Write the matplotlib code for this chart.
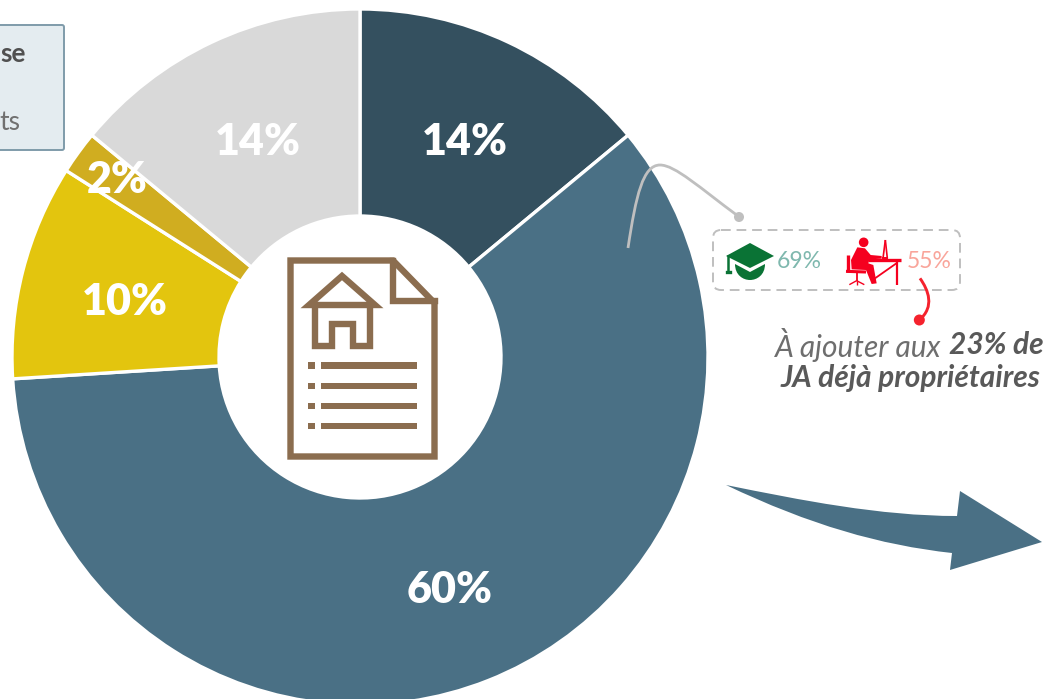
import matplotlib
matplotlib.use('Agg')
import matplotlib.pyplot as plt
from matplotlib.path import Path
from matplotlib.patches import PathPatch, Polygon, Circle, Rectangle, FancyBboxPatch

# donut data, clockwise from the top
shares = [14, 60, 10, 2, 14]
colors = ['#34505F', '#4A7085', '#E3C50E', '#D0AD20', '#D9D9D9']
label_pos = [(465, 142), (450, 590), (125, 302), (117, 180), (258, 142)]

grad_share = '69%'
work_share = '55%'

plt.rcParams['font.family'] = ['Lato', 'DejaVu Sans']

fig = plt.figure(figsize=(10.48, 6.99), dpi=100)

# donut axes: y goes up, so the pie keeps its clockwise order
ax_pie = fig.add_axes([0, 0, 1, 1])
ax_pie.pie(shares, colors=colors, startangle=90, counterclock=False,
           center=(360, 699 - 357), radius=348,
           wedgeprops=dict(width=207, edgecolor='white', linewidth=2.4))
ax_pie.set_xlim(0, 1048)
ax_pie.set_ylim(0, 699)
ax_pie.set_aspect('auto')

# overlay in image pixels for everything else
ax = fig.add_axes([0, 0, 1, 1])
ax.set_xlim(0, 1048)
ax.set_ylim(699, 0)
ax.axis('off')
ax.patch.set_alpha(0)

for v, (x, y) in zip(shares, label_pos):
    ax.text(x, y, f'{v}%', color='white', fontsize=31, fontweight='heavy',
            ha='center', va='center')


def curve(verts, codes, **kw):
    ax.add_patch(PathPatch(Path(verts, codes), **kw))


M, L, C4, Z = Path.MOVETO, Path.LINETO, Path.CURVE4, Path.CLOSEPOLY

# box cut by the left edge
ax.add_patch(FancyBboxPatch((-20, 25), 84, 125, boxstyle='round,pad=0,rounding_size=2',
                            fc='#E4ECF0', ec='#7F9BAA', lw=1.4))
ax.text(26, 54, 'se', color='#505050', fontsize=19, fontweight='bold', ha='right', va='center')
ax.text(20, 122, 'ts', color='#707070', fontsize=19, fontweight='normal', ha='right', va='center')

# document icon
brown = '#8B6D4F'
lw_doc = 4.6
ax.add_patch(Polygon([(290.5, 260.5), (393, 260.5), (434.5, 303), (434.5, 456.5), (290.5, 456.5)],
                     closed=True, fc='none', ec=brown, lw=lw_doc, joinstyle='miter'))
ax.plot([393, 393, 434.5], [260.5, 301, 301], color=brown, lw=lw_doc, solid_joinstyle='miter')
ax.add_patch(Polygon([(342, 276), (309, 305), (375, 305)], closed=True, fc='none', ec=brown,
                     lw=lw_doc, joinstyle='miter'))
ax.plot([315, 315, 332, 332, 353, 353, 370, 370], [305, 346, 346, 324, 324, 346, 346, 305],
        color=brown, lw=lw_doc, solid_joinstyle='miter')
for y in [365.5, 386, 406, 426]:
    ax.add_patch(Rectangle((308, y - 3.3), 7, 6.6, fc=brown, ec='none'))
    ax.add_patch(Rectangle((321, y - 3.3), 96, 6.6, fc=brown, ec='none'))

# grey connector
grey = '#BFBFBF'
curve([(628, 248), (636, 195), (643, 165), (660, 165), (675, 165), (700, 188), (738, 216)],
      [M, C4, C4, C4, C4, C4, C4], fc='none', ec=grey, lw=2)
ax.add_patch(Circle((739, 217), 5, fc=grey, ec='none'))

# dashed box
ax.add_patch(FancyBboxPatch((713, 230), 247, 60, boxstyle='round,pad=0,rounding_size=8',
                            fc='none', ec=grey, lw=1.4, ls=(0, (5, 3))))

# graduation cap
green = '#0A7335'
ax.add_patch(Polygon([(726, 256), (750, 243), (774, 256), (750, 268)], closed=True, fc=green, ec='none'))
curve([(735, 264), (750, 272), (765, 264), (765, 275), (757, 280), (750, 280), (743, 280),
       (735, 275), (735, 264), (735, 264)],
      [M, L, L, C4, C4, C4, C4, C4, C4, Z], fc=green, ec='none')
ax.plot([728, 728], [256, 272], color=green, lw=1.8)
ax.plot([726.5, 730], [272, 272], color=green, lw=2.4)
ax.text(777, 261, grad_share, color='#7FB8AE', fontsize=16.5, fontweight='normal', ha='left', va='center')


# person at a desk, traced on the zoomed crop (3x from 620,150)
def z(x, y):
    return 620 + x / 3, 150 + y / 3


red = '#F5001F'
ax.add_patch(Circle(z(731, 277), 4.8, fc=red, ec='none'))
ax.add_patch(Polygon([z(*p) for p in [(712, 292), (735, 295), (752, 315), (785, 318), (785, 326),
                                      (748, 328), (745, 340), (760, 345), (770, 400), (755, 402),
                                      (738, 360), (695, 358), (693, 330)]],
                     closed=True, fc=red, ec='none'))
for a, b, w in [((745, 330), (843, 330), 2.4), ((832, 330), (832, 404), 1.6), ((832, 338), (765, 385), 1.3),
                ((685, 315), (685, 365), 2.4), ((678, 364), (738, 366), 2.2), ((710, 366), (710, 392), 1.3),
                ((710, 392), (688, 404), 1), ((710, 392), (733, 404), 1), ((710, 392), (710, 405), 1),
                ((796, 270), (789, 325), 1.2), ((796, 270), (802, 325), 1.2), ((786, 325), (805, 325), 1.4)]:
    xa, ya = z(*a)
    xb, yb = z(*b)
    ax.plot([xa, xb], [ya, yb], color=red, lw=w, solid_capstyle='butt')
ax.text(907, 261, work_share, color='#F9A59B', fontsize=16.5, fontweight='normal', ha='left', va='center')

# red connector
curve([z(900, 385), z(925, 420), z(945, 470), z(898, 510)], [M, C4, C4, C4], fc='none', ec='#F5222D', lw=2.1)
ax.add_patch(Circle(z(898, 510), 5.5, fc='#F5222D', ec='none'))

# note
note = '#595959'
ax.text(941, 345, 'À ajouter aux', color='#6E6E6E', fontsize=21.5, fontstyle='italic', fontweight='normal',
        ha='right', va='center')
ax.text(1044, 345, '23% de', color=note, fontsize=21.5, fontstyle='italic', fontweight='bold',
        ha='right', va='center')
ax.text(1040, 378, 'JA déjà propriétaires', color=note, fontsize=21.5, fontstyle='italic', fontweight='bold',
        ha='right', va='center')

# big arrow
curve([(726, 485), (800, 500), (880, 516), (957, 516), (960, 491), (1042, 542), (950, 570), (952, 553),
       (880, 545), (810, 525), (726, 485), (726, 485)],
      [M, C4, C4, C4, L, L, L, L, C4, C4, C4, Z], fc='#4A7085', ec='none')

fig.savefig('out.png', dpi=100)
